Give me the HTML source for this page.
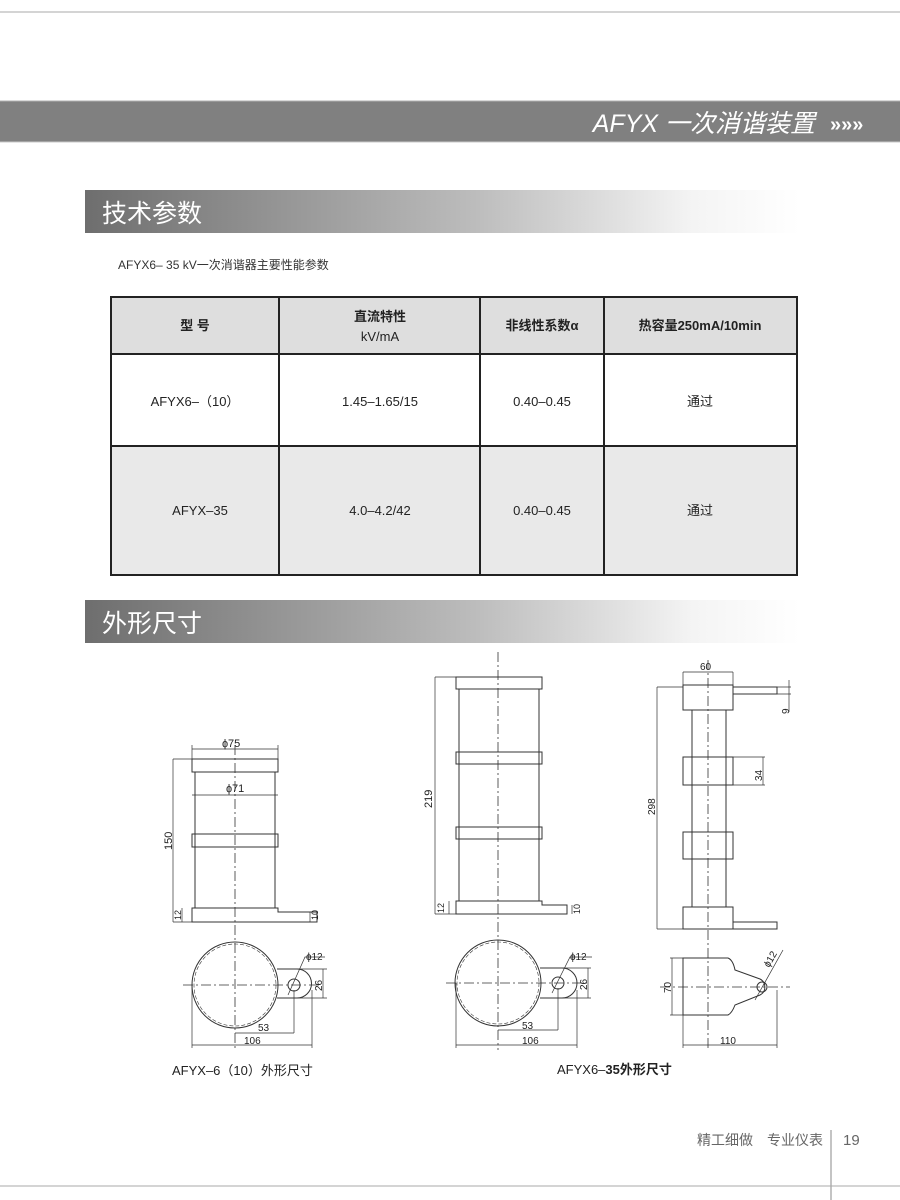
<!DOCTYPE html>
<html><head><meta charset="utf-8"><style>
body{margin:0;background:#fff}
svg{display:block}
text{font-family:"Liberation Sans","Noto Sans CJK SC",sans-serif}
</style></head><body>
<svg width="900" height="1200" viewBox="0 0 900 1200" xmlns="http://www.w3.org/2000/svg">
<defs>
<linearGradient id="g" x1="0" x2="1"><stop offset="0" stop-color="#6e6e6e"/><stop offset="0.55" stop-color="#bdbdbd"/><stop offset="0.85" stop-color="#f4f4f4"/><stop offset="1" stop-color="#fff"/></linearGradient>
</defs>
<line x1="0" y1="12" x2="900" y2="12" stroke="#aaa" stroke-width="1"/>
<rect x="0" y="101" width="900" height="41" fill="#808080"/>
<line x1="0" y1="101" x2="900" y2="101" stroke="#b0b0b0"/>
<line x1="0" y1="142" x2="900" y2="142" stroke="#c8c8c8"/>
<text x="815" y="132" fill="#fff" font-size="25" font-style="italic" text-anchor="end">AFYX 一次消谐装置</text>
<text x="830" y="131" fill="#fff" font-size="20" font-weight="bold">»»»</text>

<rect x="85" y="190" width="715" height="43" fill="url(#g)"/>
<text x="102" y="222" fill="#fff" font-size="25">技术参数</text>
<text x="118" y="269" fill="#333" font-size="12">AFYX6– 35 kV一次消谐器主要性能参数</text>

<rect x="111" y="297" width="686" height="57" fill="#dedede"/>
<rect x="111" y="446" width="686" height="129" fill="#e9e9e9"/>
<g stroke="#222" stroke-width="2" fill="none">
<rect x="111" y="297" width="686" height="278"/>
<line x1="111" y1="354" x2="797" y2="354"/><line x1="111" y1="446" x2="797" y2="446"/>
<line x1="279" y1="297" x2="279" y2="575"/><line x1="480" y1="297" x2="480" y2="575"/><line x1="604" y1="297" x2="604" y2="575"/>
</g>
<g font-size="13" fill="#222" text-anchor="middle">
<text x="195" y="330" font-weight="bold">型 号</text>
<text x="380" y="321" font-weight="bold">直流特性</text><text x="380" y="341">kV/mA</text>
<text x="542" y="330" font-weight="bold">非线性系数α</text>
<text x="700" y="330" font-weight="bold">热容量250mA/10min</text>
<text x="195" y="406">AFYX6–（10）</text><text x="380" y="406">1.45–1.65/15</text><text x="542" y="406">0.40–0.45</text><text x="700" y="406">通过</text>
<text x="200" y="515">AFYX–35</text><text x="380" y="515">4.0–4.2/42</text><text x="542" y="515">0.40–0.45</text><text x="700" y="515">通过</text>
</g>

<rect x="85" y="600" width="715" height="43" fill="url(#g)"/>
<text x="102" y="632" fill="#fff" font-size="25">外形尺寸</text>

<g stroke="#333" stroke-width="1" fill="none">
<!-- left -->
<rect x="192" y="759" width="86" height="13"/>
<line x1="195" y1="772" x2="195" y2="908"/><line x1="275" y1="772" x2="275" y2="908"/>
<rect x="192" y="834" width="86" height="13"/>
<path d="M192,908 H278 V912 H317 V922 H192 Z"/>
<line x1="192" y1="795" x2="278" y2="795" stroke-width="0.7"/>
<line x1="192" y1="749" x2="278" y2="749" stroke-width="0.7"/>
<line x1="192" y1="745" x2="192" y2="759" stroke-width="0.7"/><line x1="278" y1="745" x2="278" y2="759" stroke-width="0.7"/>
<path d="M173,759 H192 M173,922 H192 M173,759 V922 M182,908 V922 M310,912 V922" stroke-width="0.7"/>
<line x1="235" y1="745" x2="235" y2="1050" stroke-dasharray="10,3,2,3" stroke-width="0.8"/>
<circle cx="235" cy="985" r="43"/>
<circle cx="235" cy="985" r="41" stroke-dasharray="4,2" stroke-width="0.6"/>
<line x1="183" y1="985" x2="320" y2="985" stroke-dasharray="10,3,2,3" stroke-width="0.8"/>
<path d="M277,969 H297 A14.5,14.5 0 0 1 297,998 H277"/>
<circle cx="294" cy="985" r="6"/>
<path d="M288,995 L305,957 H325 M297,969 H327 M297,998 H327 M323,969 V998" stroke-width="0.7"/>
<path d="M235,1033 H294 M294,990 V1033 M192,1045 H312 M192,985 V1048 M312,990 V1048" stroke-width="0.7"/>

<!-- middle -->
<line x1="498" y1="652" x2="498" y2="1050" stroke-dasharray="10,3,2,3" stroke-width="0.8"/>
<rect x="456" y="677" width="86" height="12"/>
<line x1="459" y1="689" x2="459" y2="901"/><line x1="539" y1="689" x2="539" y2="901"/>
<rect x="456" y="752" width="86" height="12"/><rect x="456" y="827" width="86" height="12"/>
<path d="M456,901 H542 V905 H567 V914 H456 Z"/>
<path d="M435,677 H456 M435,914 H456 M435,677 V914 M449,901 V914 M572,905 V914" stroke-width="0.7"/>
<circle cx="498" cy="983" r="43"/>
<circle cx="498" cy="983" r="41" stroke-dasharray="4,2" stroke-width="0.6"/>
<line x1="446" y1="983" x2="590" y2="983" stroke-dasharray="10,3,2,3" stroke-width="0.8"/>
<path d="M540,968 H562 A15,15 0 0 1 562,998 H540"/>
<circle cx="558" cy="983" r="6"/>
<path d="M552,993 L570,957 H592 M562,968 H591 M562,998 H591 M588,968 V998" stroke-width="0.7"/>
<path d="M498,1030 H558 M558,988 V1030 M456,1045 H577 M456,983 V1048 M577,990 V1048" stroke-width="0.7"/>

<!-- right -->
<line x1="708" y1="660" x2="708" y2="1048" stroke-dasharray="10,3,2,3" stroke-width="0.8"/>
<rect x="683" y="685" width="50" height="25"/>
<rect x="733" y="687" width="44" height="7"/>
<line x1="692" y1="710" x2="692" y2="907"/><line x1="726" y1="710" x2="726" y2="907"/>
<rect x="683" y="757" width="50" height="28"/><rect x="683" y="832" width="50" height="27"/>
<rect x="683" y="907" width="50" height="22"/>
<rect x="733" y="922" width="44" height="7"/>
<path d="M683,672 V685 M733,672 V685 M683,672 H733 M657,687 H683 M657,929 H683 M657,687 V929 M733,757 H765 M733,785 H765 M763,757 V785 M777,687 H791 M777,694 H791 M789,680 V712" stroke-width="0.7"/>
<path d="M683,958 H728 Q733,960 735,970 L760,979 A9,9 0 0 1 760,995 L735,1005 Q732,1013 728,1015 H683 Z"/>
<circle cx="762" cy="987" r="5"/>
<line x1="660" y1="987" x2="790" y2="987" stroke-dasharray="10,3,2,3" stroke-width="0.8"/>
<path d="M755,1000 L783,950 M670,958 H683 M670,1015 H683 M672,958 V1015 M683,1015 V1048 M777,990 V1048 M683,1045 H777" stroke-width="0.7"/>
</g>
<g font-size="11" fill="#222">
<text x="222" y="747">ɸ75</text><text x="226" y="792">ɸ71</text>
<text x="172" y="850" transform="rotate(-90 172 850)">150</text>
<text x="181" y="920" font-size="9" transform="rotate(-90 181 920)">12</text>
<text x="318" y="920" font-size="9" transform="rotate(-90 318 920)">10</text>
<text x="306" y="960" font-size="10">ɸ12</text>
<text x="322" y="991" font-size="10" transform="rotate(-90 322 991)">26</text>
<text x="258" y="1031" font-size="10">53</text><text x="244" y="1044" font-size="10">106</text>
<text x="432" y="808" transform="rotate(-90 432 808)">219</text>
<text x="444" y="913" font-size="9" transform="rotate(-90 444 913)">12</text>
<text x="580" y="914" font-size="9" transform="rotate(-90 580 914)">10</text>
<text x="570" y="960" font-size="10">ɸ12</text>
<text x="587" y="990" font-size="10" transform="rotate(-90 587 990)">26</text>
<text x="522" y="1029" font-size="10">53</text><text x="522" y="1044" font-size="10">106</text>
<text x="700" y="670" font-size="10">60</text>
<text x="789" y="714" font-size="10" transform="rotate(-90 789 714)">9</text>
<text x="762" y="781" font-size="10" transform="rotate(-90 762 781)">34</text>
<text x="655" y="815" font-size="10" transform="rotate(-90 655 815)">298</text>
<text x="671" y="993" font-size="10" transform="rotate(-90 671 993)">70</text>
<text x="769" y="968" font-size="10" transform="rotate(-60 769 968)">ɸ12</text>
<text x="720" y="1044" font-size="10">110</text>
</g>
<text x="172" y="1075" font-size="13" fill="#222">AFYX–6（10）外形尺寸</text>
<text x="557" y="1074" font-size="13" fill="#222">AFYX6–<tspan font-weight="bold">35外形尺寸</tspan></text>

<text x="823" y="1145" font-size="14" fill="#666" text-anchor="end">精工细做　专业仪表</text>
<line x1="831" y1="1130" x2="831" y2="1200" stroke="#888"/>
<text x="843" y="1145" font-size="15" fill="#666">19</text>
<line x1="0" y1="1186" x2="900" y2="1186" stroke="#aaa"/>
</svg>
</body></html>
